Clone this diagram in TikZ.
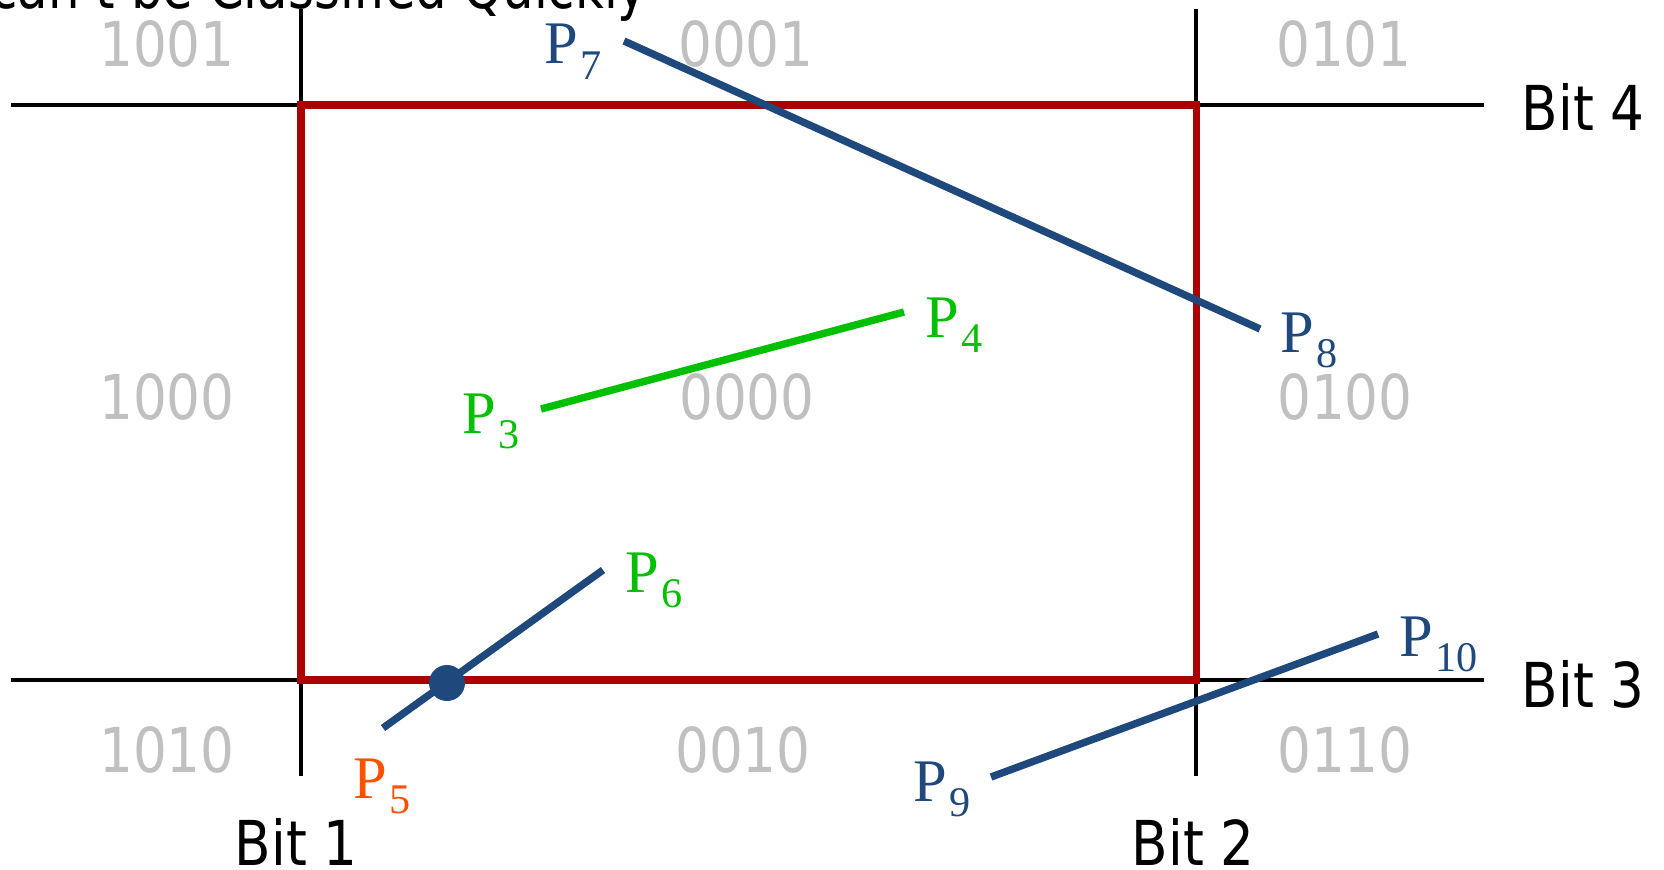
\documentclass[tikz,border=0pt]{standalone}
\usepackage{fontspec}
\setmainfont{DejaVu Sans}[FakeStretch=0.86]
\newfontfamily\pfont{Liberation Serif}
\usetikzlibrary{positioning}
\definecolor{segblue}{RGB}{31,73,125}
\definecolor{seggreen}{RGB}{0,192,0}
\definecolor{boxred}{RGB}{170,0,0}
\definecolor{ptorange}{RGB}{255,80,0}
\definecolor{codegray}{RGB}{192,192,192}
\newcommand{\plab}[1]{P\kern0.5pt\raisebox{-4.5pt}{\fontsize{12}{12}\selectfont #1}}

\begin{document}
\begin{tikzpicture}[
    x=0.01cm, y=-0.01cm,
    code/.style={text=codegray, font=\fontsize{17.6}{20}\selectfont, inner sep=0pt},
    bitlabel/.style={font=\fontsize{17.6}{20}\selectfont, inner sep=0pt, anchor=base west},
    ptlabel/.style={font=\pfont\fontsize{17.2}{20}\selectfont, inner sep=0pt, anchor=base west},
    gridline/.style={line width=1.1pt, black},
    window/.style={line width=2pt, draw=boxred},
    seg/.style={line width=2.1pt}
  ]
    \useasboundingbox (0,0) rectangle (1664,870);
    \clip (0,0) rectangle (1664,870);

    % grid lines
    \coordinate (b1top) at (301,9);
    \coordinate (b1bot) at (301,776);
    \coordinate (b2top) at (1196,9);
    \coordinate (b2bot) at (1196,776);
    \coordinate (b4l) at (11,105);
    \coordinate (b4r) at (1484,105);
    \coordinate (b3l) at (11,680);
    \coordinate (b3r) at (1484,680);
    \draw[gridline] (b1top) -- (b1bot);
    \draw[gridline] (b2top) -- (b2bot);
    \draw[gridline] (b4l) -- (b4r);
    \draw[gridline] (b3l) -- (b3r);

    % clip window
    \draw[window] (301,105) rectangle (1196,680);

    % region codes
    \node[code] (c1001) at (167,44) {1001};
    \node[code] (c0001) at (746,44) {0001};
    \node[code] (c0101) at (1344,44) {0101};
    \node[code] (c1000) at (167,397) {1000};
    \node[code] (c0000) at (747,397) {0000};
    \node[code] (c0100) at (1345,397) {0100};
    \node[code] (c1010) at (167,750) {1010};
    \node[code] (c0010) at (743,750) {0010};
    \node[code] (c0110) at (1345,750) {0110};

    % bit labels
    \node[bitlabel, anchor=base east] (title) at (648,9) {\scalebox{0.935}[1]{can't be Classified Quickly}};
    \node[bitlabel] (bit4) at (1521,130) {Bit 4};
    \node[bitlabel] (bit3) at (1521,707) {Bit 3};
    \node[bitlabel] (bit1) at (234,865) {Bit 1};
    \node[bitlabel] (bit2) at (1131,865) {Bit 2};

    % segments
    \coordinate (p7) at (624,41);
    \coordinate (p8) at (1260,329);
    \coordinate (p3) at (541,409);
    \coordinate (p4) at (904,312);
    \coordinate (p5) at (383,728);
    \coordinate (p6) at (603,570);
    \coordinate (p9) at (991,777);
    \coordinate (p10) at (1378,634);
    \draw[seg, segblue] (p7) -- (p8);
    \draw[seg, seggreen] (p3) -- (p4);
    \draw[seg, segblue] (p5) -- (p6);
    \draw[seg, segblue] (p9) -- (p10);
    \fill[segblue] (447,683) circle (18);

    % point labels
    \node[ptlabel, text=segblue] (l7) at (544,64) {\plab{7}};
    \node[ptlabel, text=segblue] (l8) at (1280,352) {\plab{8}};
    \node[ptlabel, text=seggreen] (l3) at (462,433) {\plab{3}};
    \node[ptlabel, text=seggreen] (l4) at (925,337) {\plab{4}};
    \node[ptlabel, text=seggreen] (l6) at (625,592) {\plab{6}};
    \node[ptlabel, text=ptorange] (l5) at (353,798) {\plab{5}};
    \node[ptlabel, text=segblue] (l9) at (913,801) {\plab{9}};
    \node[ptlabel, text=segblue] (l10) at (1399,656) {\plab{10}};
  \end{tikzpicture}
\end{document}
